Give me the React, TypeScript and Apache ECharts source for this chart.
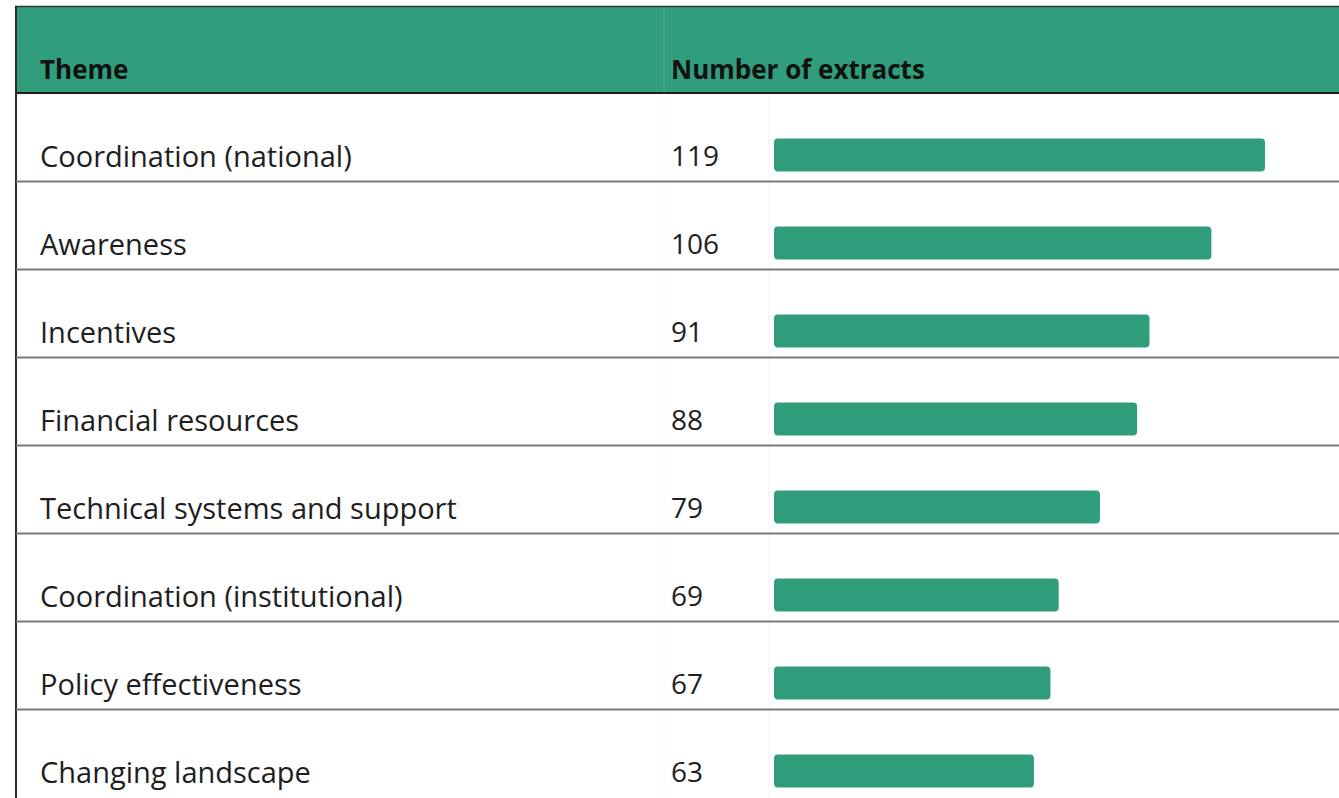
import React, { useEffect, useRef } from "react";
import * as echarts from "echarts";

const headers = ["Theme", "Number of extracts"];
const themes = [
  "Coordination (national)",
  "Awareness",
  "Incentives",
  "Financial resources",
  "Technical systems and support",
  "Coordination (institutional)",
  "Policy effectiveness",
  "Changing landscape",
];
const counts = [119, 106, 91, 88, 79, 69, 67, 63];

const GREEN = "#309e7d";
const FONT = "'Open Sans', 'Noto Sans', sans-serif";

export default function App() {
  const ref = useRef<HTMLDivElement>(null);
  useEffect(() => {
    if (!ref.current) return;
    const chart = echarts.init(ref.current, null, { renderer: "svg" });
    const W = 1339;
    const rowH = 88;
    const seps: any[] = [];
    for (let i = 0; i < themes.length - 1; i++) {
      const y = 181.5 + rowH * i;
      seps.push({
        type: "line",
        shape: { x1: 16, y1: y, x2: W, y2: y },
        style: { stroke: "#7a7a7a", lineWidth: 2 },
        z: 10,
      });
    }
    const option: any = {
      animation: false,
      backgroundColor: "#ffffff",
      grid: { left: 774, top: 111, width: 536.4, height: 704, containLabel: false },
      xAxis: {
        type: "value",
        min: 0,
        max: 130,
        show: false,
      },
      yAxis: [
        {
          type: "category",
          inverse: true,
          data: themes,
          axisLine: { show: false },
          axisTick: { show: false },
          splitLine: { show: false },
          axisLabel: {
            align: "left",
            margin: 734,
            fontSize: 29,
            fontFamily: FONT,
            color: "#1e1e1e",
            padding: [4, 0, 0, 0],
          },
        },
        {
          type: "category",
          inverse: true,
          position: "left",
          data: counts.map(String),
          axisLine: { show: false },
          axisTick: { show: false },
          splitLine: { show: false },
          axisLabel: {
            align: "left",
            margin: 103,
            fontSize: 28,
            fontFamily: FONT,
            color: "#1e1e1e",
            padding: [4, 0, 0, 0],
          },
        },
      ],
      series: [
        {
          type: "bar",
          yAxisIndex: 0,
          data: counts,
          barWidth: 33,
          itemStyle: { color: GREEN, borderRadius: 4 },
        },
      ],
      graphic: [
        {
          type: "rect",
          shape: { x: 16, y: 7, width: W - 16, height: 86 },
          style: { fill: GREEN },
          z: 1,
        },
        {
          type: "line",
          shape: { x1: 664, y1: 7, x2: 664, y2: 92 },
          style: { stroke: "rgba(255,255,255,0.12)", lineWidth: 1 },
          z: 2,
        },
        {
          type: "line",
          shape: { x1: 664, y1: 94, x2: 664, y2: 798 },
          style: { stroke: "#f3f3f3", lineWidth: 1 },
          z: 2,
        },
        {
          type: "line",
          shape: { x1: 769, y1: 94, x2: 769, y2: 798 },
          style: { stroke: "#f3f3f3", lineWidth: 1 },
          z: 2,
        },
        {
          type: "line",
          shape: { x1: 15, y1: 6.5, x2: W, y2: 6.5 },
          style: { stroke: "#333333", lineWidth: 1.5 },
          z: 10,
        },
        {
          type: "line",
          shape: { x1: 15, y1: 93, x2: W, y2: 93 },
          style: { stroke: "#1e1e1e", lineWidth: 2 },
          z: 10,
        },
        {
          type: "line",
          shape: { x1: 16, y1: 6, x2: 16, y2: 830 },
          style: { stroke: "#2a2a2a", lineWidth: 2 },
          z: 10,
        },
        ...seps,
        {
          type: "text",
          x: 40,
          y: 69,
          style: {
            text: headers[0],
            fill: "#111111",
            font: `bold 26px ${FONT}`,
            verticalAlign: "middle",
            align: "left",
          },
          z: 11,
        },
        {
          type: "text",
          x: 671,
          y: 69,
          style: {
            text: headers[1],
            fill: "#111111",
            font: `bold 26px ${FONT}`,
            verticalAlign: "middle",
            align: "left",
          },
          z: 11,
        },
      ],
    };
    chart.setOption(option);
    return () => chart.dispose();
  }, []);
  return (
    <div
      ref={ref}
      style={{ position: "fixed", left: 0, top: 0, width: 1339, height: 830 }}
    />
  );
}
